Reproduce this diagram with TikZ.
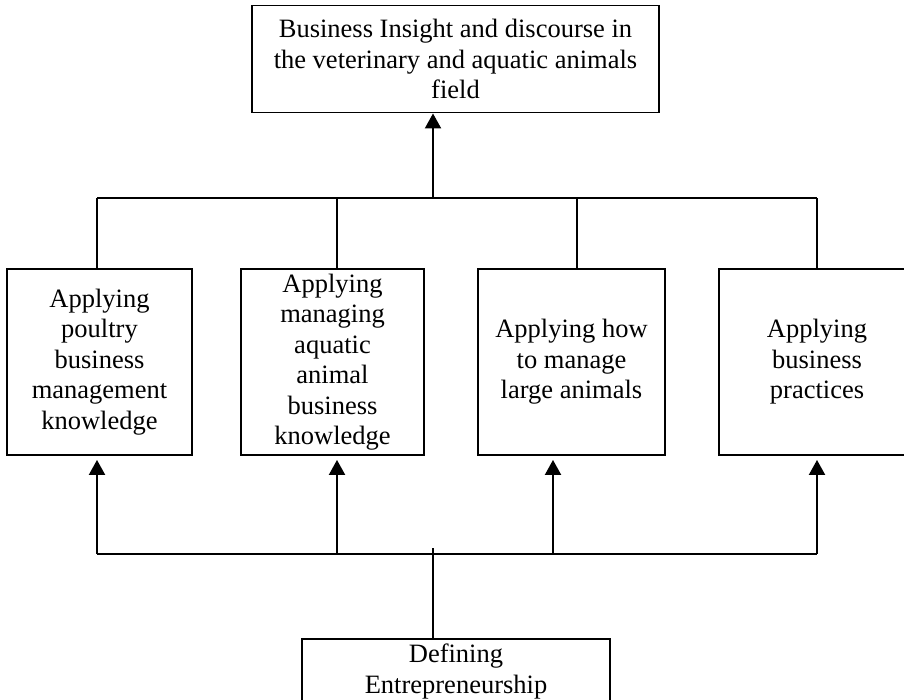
\documentclass[tikz,border=0pt]{standalone}
\usepackage{fontspec}
\setmainfont{Liberation Serif}
\usetikzlibrary{arrows.meta}
\begin{document}
\begin{tikzpicture}[x=1pt,y=-1pt,
  boxnode/.style={draw, line width=1.9pt, inner sep=0pt, align=center,
    font=\fontsize{26.5}{30.5}\selectfont},
  plainline/.style={line width=1.4pt},
  baseline/.style={line width=1.8pt},
  arr/.style={line width=2.1pt, -{Triangle[width=16pt,length=15pt]}}]
\useasboundingbox (0,0) rectangle (904,699);
\clip (0,0) rectangle (904,699);
% boxes
\node[boxnode, minimum width=407pt, minimum height=107pt] (top) at (455.5,59)
  {Business Insight and discourse in\\the veterinary and aquatic animals\\field};
\node[boxnode, minimum width=185pt, minimum height=186pt] (b1) at (99.5,362)
  {Applying\\poultry\\business\\management\\knowledge};
\node[boxnode, minimum width=183pt, minimum height=186pt] (b2) at (332.5,362)
  {Applying\\managing\\aquatic\\animal\\business\\knowledge};
\node[boxnode, minimum width=187pt, minimum height=186pt] (b3) at (571.5,362)
  {Applying how\\to manage\\large animals};
\node[boxnode, minimum width=196pt, minimum height=186pt] (b4) at (817,362)
  {Applying\\business\\practices};
\node[boxnode, minimum width=308pt, minimum height=65pt] (def) at (456,671.5)
  {Defining\\Entrepreneurship};
% junction points
\coordinate (t1) at (97,198);
\coordinate (t2) at (337,198);
\coordinate (t3) at (577,198);
\coordinate (t4) at (817,198);
\coordinate (tj) at (433,198);
\coordinate (u1) at (97,554);
\coordinate (u2) at (337,554);
\coordinate (u3) at (553,554);
\coordinate (u4) at (817,554);
\coordinate (uj) at (433,548);
% upper connectors
\draw[plainline] (t1) -- (t4);
\draw[plainline] (t1) -- (t1 |- b1.north);
\draw[plainline] (t2) -- (t2 |- b2.north);
\draw[plainline] (t3) -- (t3 |- b3.north);
\draw[plainline] (t4) -- (t4 |- b4.north);
\draw[arr] (tj) -- (tj |- top.south);
% lower connectors
\draw[baseline] (u1) -- (u4);
\draw[arr, shorten >=4pt] (u1) -- (u1 |- b1.south);
\draw[arr, shorten >=4pt] (u2) -- (u2 |- b2.south);
\draw[arr, shorten >=4pt] (u3) -- (u3 |- b3.south);
\draw[arr, shorten >=4pt] (u4) -- (u4 |- b4.south);
\draw[plainline] (uj |- def.north) -- (uj);
\end{tikzpicture}
\end{document}
